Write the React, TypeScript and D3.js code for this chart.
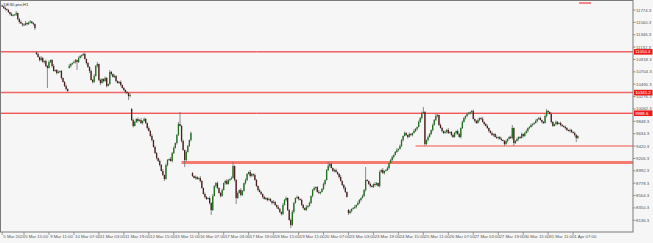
import React from 'react';
import * as d3 from 'd3';

const chartTitle = 'DE30.pro,H1';

const closes = [
  11835, 11809, 11791, 11774, 11740, 11705, 11679, 11688, 11696, 11722,
  11618, 11567, 11541, 11523, 11515, 11549, 11532, 11558, 11575, 11549,
  11532, 11463, 11013, 10961, 10909, 10944, 10874, 10892, 10805, 10771,
  10874, 10909, 10805, 10719, 10736, 10684, 10702, 10719, 10598, 10529,
  10460, 10408, 10373, 10805, 10840, 10857, 10874, 10909, 10874, 10944,
  10978, 10996, 11013, 10927, 10857, 10788, 10719, 10563, 10529, 10632,
  10805, 10840, 10563, 10511, 10581, 10546, 10598, 10460, 10494, 10702,
  10667, 10615, 10632, 10546, 10511, 10529, 10477, 10425, 10390, 10356,
  10338, 10287, 10304, 9871, 9768, 9837, 9889, 9854, 9871, 9819,
  9854, 9889, 9819, 9733, 9681, 9595, 9525, 9404, 9300, 9214,
  9162, 9093, 8989, 8920, 8851, 9093, 9179, 9197, 9162, 9300,
  9387, 9473, 9612, 9802, 9768, 9508, 9352, 9179, 9318, 9422,
  9525, 9646, 8903, 8868, 8885, 8851, 8868, 8816, 8695, 8591,
  8539, 8505, 8522, 8435, 8314, 8557, 8730, 8781, 8695, 8608,
  8557, 8660, 8781, 8816, 8764, 8833, 8851, 8868, 9076, 8833,
  8522, 8608, 8660, 8574, 8643, 8781, 8833, 8937, 8972, 8903,
  8937, 8920, 8833, 8730, 8660, 8626, 8591, 8539, 8505, 8522,
  8487, 8505, 8470, 8435, 8453, 8401, 8366, 8332, 8280, 8245,
  8401, 8487, 8522, 8314, 8141, 8055, 8280, 8435, 8522, 8539,
  8505, 8487, 8401, 8349, 8314, 8366, 8384, 8435, 8557, 8660,
  8695, 8712, 8626, 8608, 8626, 8678, 8764, 8833, 9006, 9076,
  9110, 9041, 8989, 9006, 8972, 8937, 8885, 8816, 8747, 8695,
  8626, 8539, 8262, 8297, 8332, 8349, 8366, 8401, 8435, 8487,
  8522, 8557, 8660, 8833, 8816, 8764, 8730, 8712, 8764, 8747,
  8781, 8730, 8972, 9006, 8954, 8989, 9006, 9041, 9127, 9179,
  9231, 9266, 9318, 9352, 9370, 9422, 9525, 9595, 9646, 9612,
  9577, 9629, 9612, 9646, 9681, 9716, 9750, 9837, 9906, 9992,
  10010, 9456, 9525, 9577, 9629, 9698, 9785, 9871, 9941, 9958,
  9785, 9733, 9681, 9646, 9664, 9698, 9646, 9664, 9612, 9577,
  9646, 9681, 9629, 9577, 9733, 9837, 9906, 9941, 9975, 9992,
  10010, 10027, 9889, 9854, 9819, 9871, 9906, 9889, 9837, 9802,
  9768, 9733, 9681, 9646, 9612, 9629, 9577, 9560, 9577, 9543,
  9525, 9508, 9456, 9508, 9543, 9577, 9560, 9733, 9473, 9508,
  9543, 9577, 9560, 9629, 9595, 9646, 9681, 9733, 9750, 9785,
  9802, 9819, 9854, 9889, 9906, 9871, 9837, 9819, 9941, 10027,
  10010, 9975, 9837, 9768, 9802, 9837, 9802, 9819, 9785, 9768,
  9750, 9733, 9698, 9681, 9698, 9664, 9646, 9612, 9560, 9595,
];

const wickUp = [
  17, 9, 26, 9, 17, 0, 26, 17, 9, 35,
  9, 17, 26, 9, 17, 35, 9, 17, 26, 9,
  17, 9, 17, 26, 9, 35, 17, 9, 26, 17,
  26, 9, 17, 35, 9, 17, 26, 9, 17, 9,
  17, 26, 9, 35, 17, 9, 26, 17, 9, 26,
  17, 9, 18, 26, 9, 17, 9, 26, 17, 35,
  17, 35, 9, 26, 17, 9, 26, 17, 9, 35,
  17, 9, 26, 17, 9, 17, 26, 9, 17, 9,
  17, 9, 26, 17, 26, 17, 9, 26, 17, 35,
  9, 26, 17, 9, 26, 17, 35, 9, 26, 17,
  9, 26, 17, 35, 9, 26, 17, 9, 35, 17,
  26, 9, 17, 35, 208, 17, 26, 9, 26, 17,
  9, 26, 17, 9, 26, 17, 9, 35, 17, 9,
  26, 17, 9, 26, 17, 35, 9, 17, 26, 9,
  17, 26, 9, 17, 35, 17, 9, 26, 69, 9,
  17, 26, 9, 35, 17, 9, 26, 17, 9, 35,
  17, 9, 26, 17, 9, 26, 17, 9, 26, 17,
  9, 26, 17, 9, 35, 17, 9, 26, 17, 9,
  35, 17, 26, 9, 17, 26, 35, 17, 9, 26,
  17, 9, 26, 17, 9, 35, 17, 26, 9, 17,
  26, 9, 17, 35, 9, 17, 26, 9, 17, 69,
  17, 26, 9, 17, 26, 9, 17, 35, 9, 17,
  26, 9, 17, 26, 9, 17, 35, 9, 26, 17,
  9, 26, 17, 225, 17, 9, 26, 17, 9, 35,
  17, 9, 26, 17, 35, 9, 17, 26, 9, 17,
  26, 9, 17, 35, 9, 26, 17, 9, 26, 17,
  9, 26, 17, 9, 35, 17, 9, 26, 17, 26,
  86, 17, 9, 26, 17, 9, 26, 17, 35, 17,
  9, 26, 17, 9, 26, 17, 35, 9, 17, 26,
  17, 9, 26, 17, 9, 26, 17, 9, 26, 17,
  9, 17, 26, 9, 17, 26, 9, 17, 35, 9,
  17, 26, 9, 17, 26, 9, 17, 26, 9, 17,
  26, 9, 17, 26, 9, 17, 26, 52, 9, 17,
  26, 9, 17, 26, 9, 17, 26, 9, 17, 26,
  9, 17, 26, 9, 17, 26, 9, 17, 26, 35,
  17, 9, 26, 17, 9, 26, 17, 9, 26, 17,
  9, 26, 17, 9, 26, 17, 9, 26, 17, 9,
];

const wickDn = [
  9, 17, 26, 9, 17, 26, 9, 17, 9, 26,
  17, 26, 9, 35, 17, 9, 26, 17, 9, 17,
  26, 35, 17, 9, 26, 17, 9, 26, 17, 346,
  9, 17, 26, 9, 17, 26, 9, 17, 26, 9,
  17, 26, 17, 9, 26, 17, 9, 26, 138, 17,
  9, 26, 17, 9, 26, 17, 35, 9, 26, 17,
  9, 26, 17, 35, 9, 26, 17, 26, 9, 17,
  26, 9, 17, 26, 9, 17, 26, 9, 17, 26,
  17, 70, 26, 17, 26, 9, 17, 26, 9, 17,
  26, 9, 17, 26, 9, 17, 26, 9, 17, 26,
  17, 26, 9, 17, 35, 9, 26, 17, 9, 26,
  17, 9, 26, 17, 9, 26, 17, 121, 26, 9,
  17, 26, 17, 9, 26, 17, 9, 26, 17, 9,
  26, 17, 9, 26, 86, 17, 9, 26, 17, 9,
  26, 17, 9, 26, 17, 9, 26, 17, 9, 26,
  104, 17, 9, 26, 17, 9, 26, 17, 9, 26,
  17, 26, 9, 17, 26, 9, 17, 26, 9, 17,
  26, 9, 17, 26, 9, 17, 26, 9, 17, 26,
  17, 9, 26, 17, 9, 52, 17, 26, 9, 17,
  26, 9, 17, 26, 9, 17, 26, 9, 17, 26,
  17, 26, 9, 17, 26, 9, 17, 26, 9, 17,
  26, 9, 17, 26, 9, 17, 26, 9, 17, 26,
  17, 9, 34, 17, 26, 9, 17, 26, 9, 17,
  26, 9, 17, 26, 9, 17, 26, 9, 17, 26,
  9, 17, 26, 9, 17, 26, 9, 17, 26, 9,
  17, 26, 9, 17, 26, 9, 17, 26, 9, 17,
  26, 9, 17, 26, 9, 17, 26, 9, 17, 26,
  9, 34, 17, 26, 9, 17, 26, 9, 17, 26,
  17, 9, 26, 17, 9, 26, 17, 9, 26, 17,
  9, 26, 17, 9, 26, 17, 9, 26, 17, 9,
  26, 17, 9, 26, 17, 9, 26, 17, 9, 26,
  9, 17, 26, 9, 17, 26, 9, 17, 26, 9,
  17, 9, 34, 17, 26, 9, 17, 26, 51, 17,
  9, 26, 17, 9, 26, 17, 9, 26, 17, 9,
  26, 17, 9, 26, 17, 9, 26, 17, 9, 26,
  17, 9, 26, 17, 9, 26, 17, 9, 26, 17,
  9, 26, 17, 9, 26, 17, 9, 26, 69, 17,
];

// bars that open away from the previous close (session gaps)
const gapBars = [0, 22, 43, 83, 122, 222];
const gapOpenPrices = [11852, 11039, 10771, 10062, 8954, 8314];

const yTickValues = [
  11774.3, 11560.3, 11346.3, 11132.3, 10918.3, 10704.3, 10490.3, 10276.3, 10062.3,
  9848.3, 9634.3, 9420.3, 9206.3, 8992.3, 8778.3, 8564.3, 8350.3, 8136.3,
];

const xLabels = [
  '5 Mar 2020', '5 Mar 15:00', '9 Mar 11:00', '10 Mar 07:00', '11 Mar 03:00', '11 Mar 19:00',
  '12 Mar 15:00', '13 Mar 11:00', '16 Mar 07:00', '17 Mar 03:00', '17 Mar 19:00', '18 Mar 15:00',
  '19 Mar 11:00', '20 Mar 07:00', '23 Mar 03:00', '23 Mar 19:00', '24 Mar 15:00', '25 Mar 11:00',
  '26 Mar 07:00', '27 Mar 03:00', '27 Mar 19:00', '30 Mar 15:00', '31 Mar 11:00', '1 Apr 07:00',
];
const xLabelBars = [
  0, 14, 30, 46, 62, 78, 94, 110, 126, 142, 158, 174, 190, 206, 222, 238, 254, 270, 286, 302,
  318, 334, 350, 366,
];

// full-width horizontal levels (with price tag on the axis)
const hLevelPrices = [11050.4, 10345.2, 9988.6];
const hLevelTags = ['11050.4', '10345.2', '9988.6'];
// levels starting at a bar and running to the right edge
const rayPrices = [9421.5, 9136.0];
const rayStartBars = [265, 115];

const W = 653;
const H = 243;
const plotRight = 633;
const plotBottom = 232;

export default function App() {
  const x = d3.scaleLinear().domain([0, closes.length - 1]).range([2.16, 2.16 + 1.56 * (closes.length - 1)]);
  const y = d3.scaleLinear().domain([8136.3, 11774.3]).range([220.3, 10]);

  const gapMap = new Map<number, number>();
  gapBars.forEach((b, k) => gapMap.set(b, gapOpenPrices[k]));

  const candles = closes.map((c, i) => {
    const o = gapMap.has(i) ? (gapMap.get(i) as number) : closes[i - 1];
    const hi = Math.max(o, c) + wickUp[i];
    const lo = Math.min(o, c) - wickDn[i];
    return { i, o, c, hi, lo };
  });

  const font = '"Liberation Sans", Arial, sans-serif';
  const fs = 4.3;
  const hColors = ['#f01818', '#f36464', '#f01818'];
  const hWidths = [1, 1.5, 1];
  const rayColors = ['#f6a49c', '#f7796e'];
  const rayWidths = [2, 3];

  return (
    <svg
      width={W}
      height={H}
      style={{ position: 'absolute', left: 0, top: 0, background: '#f6f6f6', fontFamily: font }}
    >
      <rect x={0} y={0} width={W} height={H} fill="#f6f6f6" />
      {rayPrices.map((p, k) => (
        <line
          key={'r' + k}
          x1={x(rayStartBars[k])}
          x2={plotRight}
          y1={y(p)}
          y2={y(p)}
          stroke={rayColors[k]}
          strokeWidth={rayWidths[k]}
        />
      ))}
      {hLevelPrices.map((p, k) => (
        <line
          key={'h' + k}
          x1={0}
          x2={plotRight}
          y1={y(p)}
          y2={y(p)}
          stroke={hColors[k]}
          strokeWidth={hWidths[k]}
        />
      ))}
      <line x1={579} x2={591} y1={3} y2={3} stroke="#f01818" strokeWidth={1} />
      {candles.map((d) => {
        const cx = x(d.i);
        const top = y(Math.max(d.o, d.c));
        const bot = y(Math.min(d.o, d.c));
        const bull = d.c >= d.o;
        return (
          <g key={d.i}>
            <line x1={cx} x2={cx} y1={y(d.hi)} y2={y(d.lo)} stroke="#6e6e6e" strokeWidth={0.8} />
            <rect
              x={cx - 0.65}
              y={top}
              width={1.3}
              height={Math.max(0.9, bot - top)}
              fill={bull ? '#1d731d' : '#4e1e1e'}
            />
          </g>
        );
      })}
      <rect x={0.5} y={0.5} width={plotRight - 0.5} height={plotBottom - 0.5} fill="none" stroke="#7a7a7a" strokeWidth={1} />
      {yTickValues.map((v) => (
        <g key={'yt' + v}>
          <line x1={plotRight} x2={plotRight + 2.5} y1={y(v)} y2={y(v)} stroke="#7a7a7a" strokeWidth={0.8} />
          <text x={plotRight + 3} y={y(v) + 1.5} fontSize={fs} fill="#555">
            {v.toFixed(1)}
          </text>
        </g>
      ))}
      {hLevelPrices.map((p, k) => (
        <g key={'tag' + k}>
          <rect x={plotRight + 1} y={y(p) - 2.8} width={18.5} height={5.6} fill="#f01818" />
          <text x={plotRight + 2.2} y={y(p) + 1.5} fontSize={fs} fill="#fff">
            {hLevelTags[k]}
          </text>
        </g>
      ))}
      {xLabels.map((lab, k) => {
        const px = x(xLabelBars[k]);
        return (
          <g key={'xl' + k}>
            <line x1={px} x2={px} y1={plotBottom} y2={plotBottom + 3} stroke="#7a7a7a" strokeWidth={0.7} />
            <text x={px + 1.2} y={plotBottom + 5.6} fontSize={fs} fill="#555">
              {lab}
            </text>
          </g>
        );
      })}
      <text x={3.5} y={6} fontSize={fs} fill="#333">
        {chartTitle}
      </text>
    </svg>
  );
}
